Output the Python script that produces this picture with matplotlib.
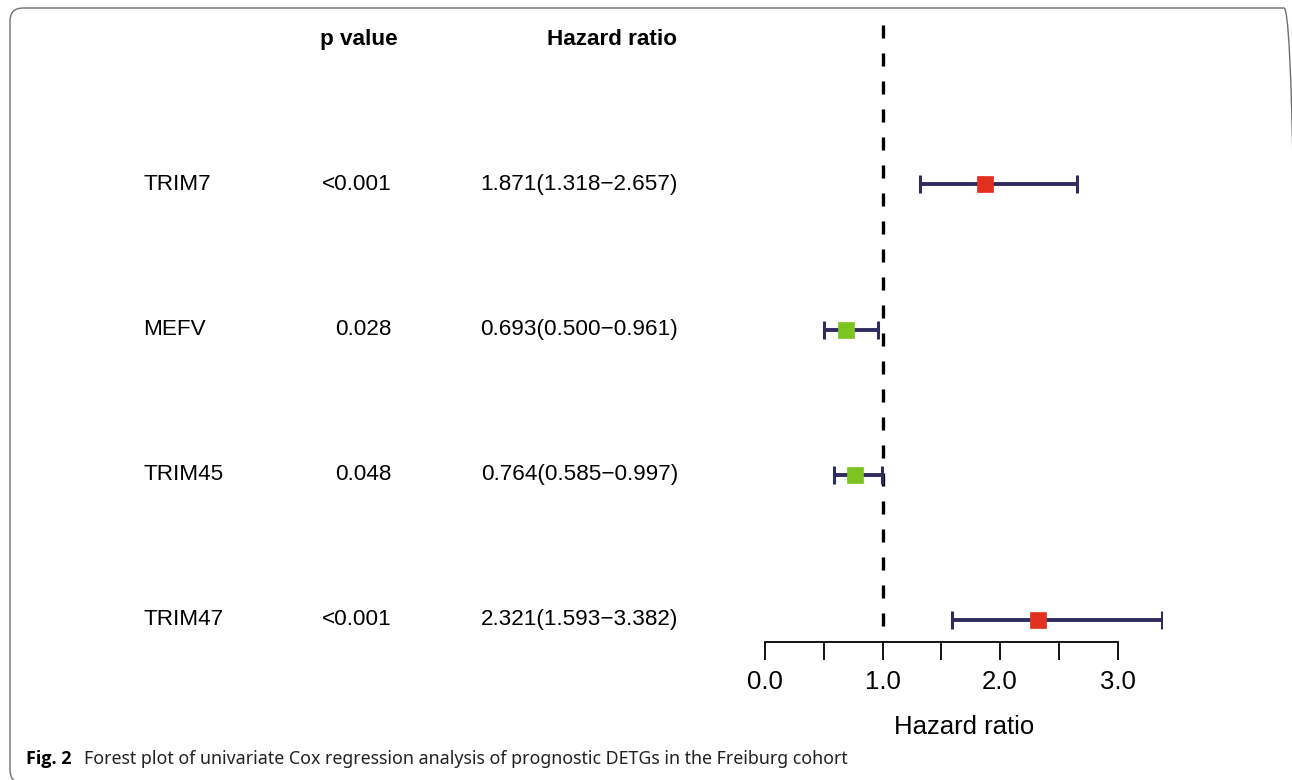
import matplotlib
matplotlib.use('Agg')
import matplotlib.pyplot as plt
import matplotlib.transforms as mtransforms
from matplotlib.patches import FancyBboxPatch

plt.rcParams['font.family'] = ['Liberation Sans', 'DejaVu Sans']

genes = ['TRIM7', 'MEFV', 'TRIM45', 'TRIM47']
pvals = ['<0.001', '0.028', '0.048', '<0.001']
hr = [1.871, 0.693, 0.764, 2.321]
lo = [1.318, 0.500, 0.585, 1.593]
hi = [2.657, 0.961, 0.997, 3.382]

RED = '#e2301f'; GREEN = '#7cc520'; NAVY = '#2f2c60'
FS = 16.2
W, H = 1292, 780
PX = 1.0 / W  # one pixel in figure fraction (x)

fig = plt.figure(figsize=(12.92, 7.8), dpi=100)

# rounded frame round the figure panel (right and bottom edges fall just off the page)
frame = FancyBboxPatch((0.10, -0.03), 12.87, 7.75,
                       boxstyle='round,pad=0,rounding_size=0.13',
                       transform=fig.dpi_scale_trans, fill=False,
                       edgecolor='#6e6e6e', lw=1.0)
fig.patches.append(frame)

ax = fig.add_axes([765 / W, 138 / H, 397.4 / W, 617 / H])
ax.set_xlim(0, max(hi))
rows = list(range(len(genes)))
ytop, ybot = -1.097, len(genes) - 1 + 0.152
ax.set_ylim(ybot, ytop)

# reference line at HR = 1, dashes run from the top down
ax.plot([1.0, 1.0], [ytop, ybot], color='black', lw=2.4,
        ls=(0, (3.9, 4.5)), zorder=1, clip_on=False)

for i in rows:
    col = RED if hr[i] > 1 else GREEN
    ax.errorbar(hr[i], i, xerr=[[hr[i] - lo[i]], [hi[i] - hr[i]]],
                fmt='none', ecolor=NAVY, elinewidth=2.8, capsize=6.5,
                capthick=2.2, zorder=2)
    ax.plot(hr[i], i, 's', ms=11.5, color=col, mec=col, mew=0.5,
            zorder=3)

for s in ['top', 'right', 'left']:
    ax.spines[s].set_visible(False)
ax.spines['bottom'].set_bounds(0, 3)
ax.spines['bottom'].set_linewidth(1.3)
ax.set_yticks([])
ax.set_xticks([0, 1, 2, 3])
ax.set_xticklabels(['0.0', '1.0', '2.0', '3.0'], fontsize=18.5)
ax.set_xticks([0.5, 1.5, 2.5], minor=True)
ax.tick_params(axis='x', which='both', direction='out', length=13,
               width=1.3, pad=7)
ax.set_xlabel('Hazard ratio', fontsize=18.5, labelpad=15)

# table columns on the left
tr = mtransforms.blended_transform_factory(fig.transFigure, ax.transData)
ax.text(359 * PX, -1, 'p value', transform=tr, ha='center', va='center',
        fontsize=FS, fontweight='bold')
ax.text(612 * PX, -1, 'Hazard ratio', transform=tr, ha='center',
        va='center', fontsize=FS, fontweight='bold')
for i in rows:
    ax.text(143 * PX, i, genes[i], transform=tr, ha='left', va='center',
            fontsize=FS)
    ax.text(392 * PX, i, pvals[i], transform=tr, ha='right', va='center',
            fontsize=FS)
    ax.text(678 * PX, i, f'{hr[i]:.3f}({lo[i]:.3f}\u2212{hi[i]:.3f})',
            transform=tr, ha='right', va='center', fontsize=FS)

# caption
fig.text(26 * PX, 21 / H, 'Fig. 2', fontsize=13, fontweight='bold',
         family='Open Sans', va='center')
fig.text(84 * PX, 21 / H,
         'Forest plot of univariate Cox regression analysis of prognostic '
         'DETGs in the Freiburg cohort',
         fontsize=12.8, family='Noto Sans', va='center', color='#222222')

fig.savefig('out.png', dpi=100)
